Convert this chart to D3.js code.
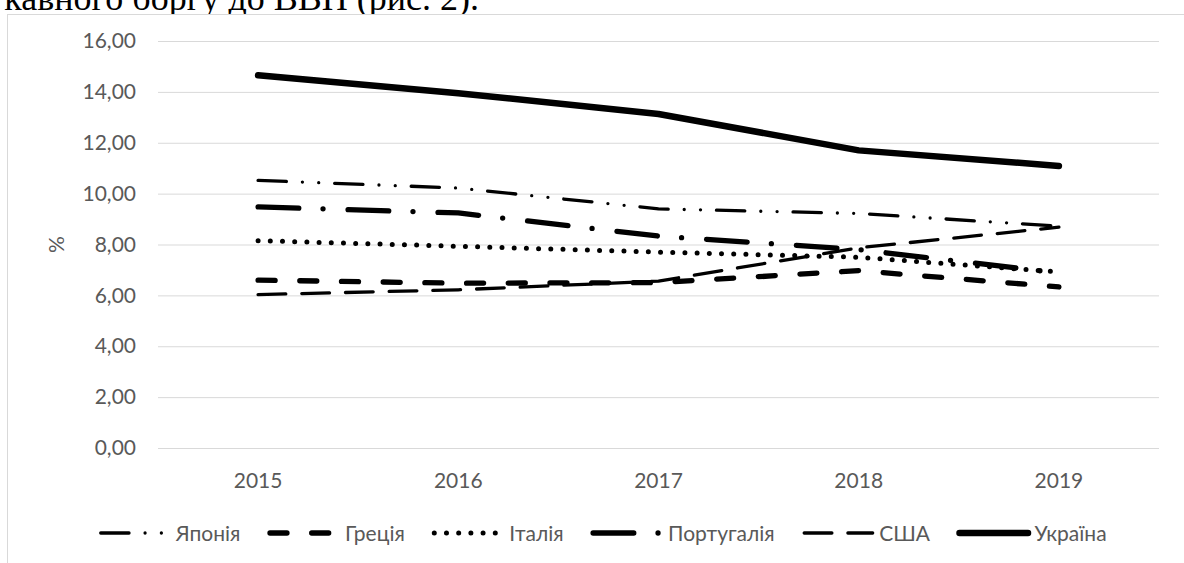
<!DOCTYPE html>
<html><head><meta charset="utf-8">
<script src="https://cdn.jsdelivr.net/npm/d3@7"></script>
<style>
html,body{margin:0;padding:0;background:#fff;overflow:hidden}
svg{display:block}
</style></head><body>
<svg id="c" width="1184" height="563"></svg>
<script>
// ---- data ----
const years = ["2015","2016","2017","2018","2019"];
const seriesNames = ["Японія","Греція","Італія","Португалія","США","Україна"];
const japan    = [10.52, 10.22, 9.40, 9.22, 8.72];
const greece   = [6.60, 6.48, 6.50, 6.97, 6.33];
const italy    = [8.15, 7.93, 7.70, 7.50, 6.92];
const portugal = [9.48, 9.24, 8.33, 7.80, 6.88];
const usa      = [6.03, 6.22, 6.56, 7.87, 8.68];
const ukraine  = [14.65, 13.95, 13.13, 11.70, 11.09];
const yTicks = [0, 2, 4, 6, 8, 10, 12, 14, 16];
const yTitle = "%";
const bodyText = "кавного боргу до ВВП (рис. 2).";

const seriesValues = [japan, greece, italy, portugal, usa, ukraine];

// ---- styles ----
const lineStyles = [
  {w: 3.3, dash: "28.3,16.05,0,16.3,0,15.95"},
  {w: 5.3, dash: "17,24.7"},
  {w: 5.0, dash: "0,12.2"},
  {w: 5.3, dash: "40.7,24.25,0,25.05"},
  {w: 3.3, dash: "27.7,16"},
  {w: 6.5, dash: null}
];
const FONT = "Lato, 'Open Sans', sans-serif";
const FS = "21px";
const TXT = "#595959";
const GRID = "#d9d9d9";

const svg = d3.select("#c");

// body text (cropped at top, as in the reference)
svg.append("text")
  .attr("x", 479).attr("y", 9.5)
  .attr("text-anchor", "end")
  .style("font-family", "'Liberation Serif', 'Times New Roman', serif")
  .style("font-size", "36px")
  .attr("fill", "#000")
  .text(bodyText);

// chart frame
svg.append("rect")
  .attr("x", 7.5).attr("y", 14.5)
  .attr("width", 1300).attr("height", 700)
  .attr("fill", "#fff").attr("stroke", GRID).attr("stroke-width", 1);

const plotL = 158, plotR = 1159, plotT = 41, plotB = 448;
const x = d3.scaleBand().domain(years).range([plotL, plotR]).padding(0);
const bw = x.bandwidth();
const y = d3.scaleLinear().domain([0, 16]).range([plotB, plotT]);

const loc = d3.formatLocale({decimal: ",", thousands: " ", grouping: [3], currency: ["", ""]});
const fmt = loc.format(".2f");

// y axis with gridlines
const yAxis = svg.append("g")
  .attr("transform", `translate(${plotL},0)`)
  .call(d3.axisLeft(y).tickValues(yTicks).tickFormat(fmt)
        .tickSize(-(plotR - plotL)).tickPadding(22));
yAxis.select(".domain").remove();
yAxis.selectAll(".tick line").attr("stroke", GRID).attr("stroke-width", 1);
yAxis.selectAll(".tick text").attr("fill", TXT)
  .style("font-family", FONT).style("font-size", FS);

// x axis labels
const xAxis = svg.append("g")
  .attr("transform", `translate(0,${plotB})`)
  .call(d3.axisBottom(x).tickSize(0).tickPadding(25));
xAxis.select(".domain").remove();
xAxis.selectAll(".tick text").attr("fill", TXT)
  .style("font-family", FONT).style("font-size", FS);

// y title
svg.append("text")
  .attr("transform", `translate(64,${(plotT + plotB) / 2}) rotate(-90)`)
  .attr("text-anchor", "middle")
  .attr("fill", TXT)
  .style("font-family", FONT).style("font-size", FS)
  .text(yTitle);

// lines
const line = d3.line()
  .x((d, i) => x(years[i]) + bw / 2)
  .y(d => y(d));

seriesValues.forEach((vals, k) => {
  const st = lineStyles[k];
  const p = svg.append("path")
    .attr("d", line(vals))
    .attr("fill", "none")
    .attr("stroke", "#000")
    .attr("stroke-width", st.w)
    .attr("stroke-linecap", "round")
    .attr("stroke-linejoin", "round");
  if (st.dash) p.attr("stroke-dasharray", st.dash);
});

// legend
const legY = 533;
const segLen = 68.5, txtGap = 6.5, itemGap = 29.5;
const leg = svg.append("g");
let cx = 0;
seriesNames.forEach((name, k) => {
  const st = lineStyles[k];
  const g = leg.append("g").attr("transform", `translate(${cx},0)`);
  const p = g.append("line")
    .attr("x1", 0).attr("x2", segLen)
    .attr("y1", legY).attr("y2", legY)
    .attr("stroke", "#000").attr("stroke-width", st.w)
    .attr("stroke-linecap", "round");
  if (st.dash) p.attr("stroke-dasharray", st.dash);
  const t = g.append("text")
    .attr("x", segLen + txtGap).attr("y", legY)
    .attr("dy", "0.36em")
    .attr("fill", TXT)
    .style("font-family", FONT).style("font-size", FS)
    .text(name);
  const tw = t.node().getComputedTextLength();
  cx += segLen + txtGap + tw + itemGap;
});
const total = cx - itemGap;
// reference legend spans ~94..1110
const legStart = 602 - total / 2 + 1.65;
leg.attr("transform", `translate(${legStart},0)`);
</script>
</body></html>
